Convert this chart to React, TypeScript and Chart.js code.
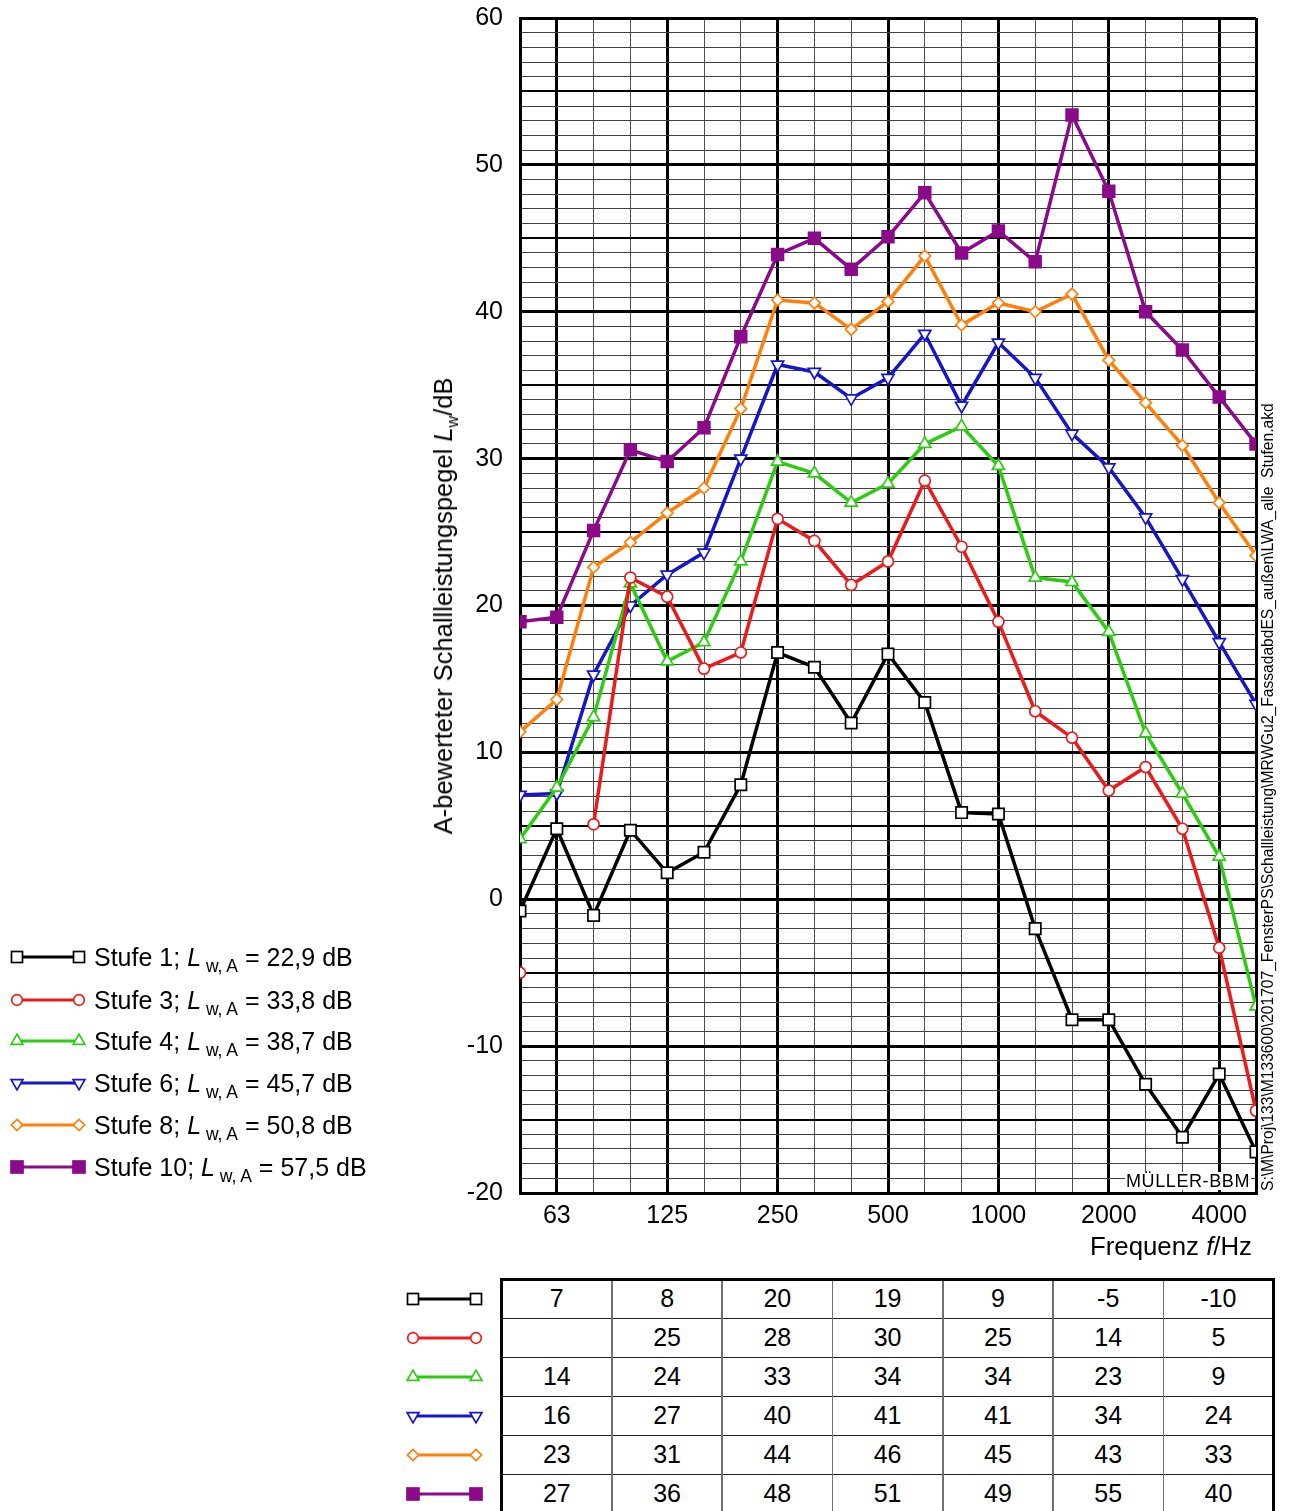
import React, { useEffect, useRef } from 'react';
import { Chart, registerables } from 'chart.js';

Chart.register(...registerables);

const FONT = "'Liberation Sans', Arial, sans-serif";

// third-octave band centre frequencies (Hz)
const frequencies = ['50', '63', '80', '100', '125', '160', '200', '250', '315', '400', '500', '630', '800', '1000', '1250', '1600', '2000', '2500', '3150', '4000', '5000'];
// labelled octave ticks
const octaveTicks = ['63', '125', '250', '500', '1000', '2000', '4000'];
// y tick labels
const yTickLabels = [-20, -10, 0, 10, 20, 30, 40, 50, 60];

// third-octave levels in dB
const stufe1 = [-0.8, 4.8, -1.1, 4.7, 1.8, 3.2, 7.8, 16.8, 15.8, 12.0, 16.7, 13.4, 5.9, 5.8, -2.0, -8.2, -8.2, -12.6, -16.2, -11.9, -17.2];
const stufe3 = [-5.0, null, 5.1, 21.9, 20.6, 15.7, 16.8, 25.9, 24.4, 21.4, 23.0, 28.5, 24.0, 18.9, 12.8, 11.0, 7.4, 9.0, 4.8, -3.3, -14.4];
const stufe4 = [4.1, 7.6, 12.4, 21.5, 16.2, 17.5, 23.0, 29.8, 29.0, 27.0, 28.3, 31.0, 32.2, 29.5, 21.9, 21.6, 18.2, 11.3, 7.2, 2.9, -7.3];
const stufe6 = [7.1, 7.2, 15.3, 20.0, 22.1, 23.6, 30.0, 36.4, 35.9, 34.1, 35.5, 38.5, 33.6, 37.9, 35.5, 31.7, 29.4, 26.0, 21.8, 17.5, 13.3];
const stufe8 = [11.4, 13.6, 22.6, 24.3, 26.3, 28.0, 33.4, 40.8, 40.6, 38.8, 40.7, 43.8, 39.1, 40.6, 40.0, 41.2, 36.7, 33.8, 30.9, 27.0, 23.4];
const stufe10 = [18.9, 19.2, 25.1, 30.6, 29.8, 32.1, 38.3, 43.9, 45.0, 42.9, 45.1, 48.1, 44.0, 45.5, 43.4, 53.4, 48.2, 40.0, 37.4, 34.2, 31.0];

// octave-band table values
const oct1 = [7, 8, 20, 19, 9, -5, -10];
const oct3 = [null, 25, 28, 30, 25, 14, 5];
const oct4 = [14, 24, 33, 34, 34, 23, 9];
const oct6 = [16, 27, 40, 41, 41, 34, 24];
const oct8 = [23, 31, 44, 46, 45, 43, 33];
const oct10 = [27, 36, 48, 51, 49, 55, 40];

const seriesNames = ['Stufe 1', 'Stufe 3', 'Stufe 4', 'Stufe 6', 'Stufe 8', 'Stufe 10'];
const lwaValues = ['22,9', '33,8', '38,7', '45,7', '50,8', '57,5'];

const seriesData = [stufe1, stufe3, stufe4, stufe6, stufe8, stufe10];
const tableData = [oct1, oct3, oct4, oct6, oct8, oct10];
const colors = ['#000000', '#ec1a1a', '#2dcc12', '#1515cc', '#ff7f0a', '#8a0a8a'];
const kinds = ['square', 'circle', 'triUp', 'triDown', 'diamond', 'squareFilled'];

const pathText = 'S:\\M\\Proj\\133\\M133600\\201707_FensterPS\\Schallleistung\\MRWGu2_FassadabdES_außen\\LWA_alle  Stufen.akd';

function pointOpts(kind: string, color: string) {
  switch (kind) {
    case 'square':
      return { pointStyle: 'rect', pointRadius: 8, pointBackgroundColor: '#fff' };
    case 'squareFilled':
      return { pointStyle: 'rect', pointRadius: 8.3, pointBackgroundColor: color };
    case 'circle':
      return { pointStyle: 'circle', pointRadius: 5.5, pointBackgroundColor: '#fff' };
    case 'triUp':
      return { pointStyle: 'triangle', pointRadius: 7, pointBackgroundColor: '#fff' };
    case 'triDown':
      return { pointStyle: 'triangle', pointRotation: 180, pointRadius: 7, pointBackgroundColor: '#fff' };
    default:
      return { pointStyle: 'rectRot', pointRadius: 5.8, pointBackgroundColor: '#fff' };
  }
}

function Shape({ kind, color, cx, cy }: { kind: string; color: string; cx: number; cy: number }) {
  const sw = 1.7;
  if (kind === 'square' || kind === 'squareFilled') {
    const s = kind === 'square' ? 5.5 : 6;
    return <rect x={cx - s} y={cy - s} width={2 * s} height={2 * s} fill={kind === 'square' ? '#fff' : color} stroke={color} strokeWidth={sw} />;
  }
  if (kind === 'circle') return <circle cx={cx} cy={cy} r={5.3} fill="#fff" stroke={color} strokeWidth={sw} />;
  if (kind === 'triUp' || kind === 'triDown') {
    const r = 6.8;
    const d = kind === 'triUp' ? 1 : -1;
    const pts = `${cx},${cy - d * r} ${cx + 0.866 * r},${cy + d * r / 2} ${cx - 0.866 * r},${cy + d * r / 2}`;
    return <polygon points={pts} fill="#fff" stroke={color} strokeWidth={sw} />;
  }
  const r = 5.6;
  return <polygon points={`${cx},${cy - r} ${cx + r},${cy} ${cx},${cy + r} ${cx - r},${cy}`} fill="#fff" stroke={color} strokeWidth={sw} />;
}

function Sample({ kind, color, x1, x2, cy }: { kind: string; color: string; x1: number; x2: number; cy: number }) {
  const left = x1 - 10;
  const w = x2 - x1 + 20;
  return (
    <svg style={{ position: 'absolute', left, top: cy - 10 }} width={w} height={20}>
      <line x1={10} y1={10} x2={w - 10} y2={10} stroke={color} strokeWidth={3.2} />
      <Shape kind={kind} color={color} cx={10} cy={10} />
      <Shape kind={kind} color={color} cx={w - 10} cy={10} />
    </svg>
  );
}

export default function App() {
  const canvasRef = useRef<HTMLCanvasElement>(null);

  useEffect(() => {
    const canvas = canvasRef.current;
    if (!canvas) return;
    const isMajorX = (i: number) => i === 0 || i === frequencies.length - 1 || octaveTicks.includes(frequencies[i]);
    const datasets = seriesData.map((d, i) => ({
      label: seriesNames[i],
      data: d,
      borderColor: colors[i],
      pointBorderColor: colors[i],
      borderWidth: 3.5,
      pointBorderWidth: 1.7,
      spanGaps: false,
      tension: 0,
      clip: 0,
      ...pointOpts(kinds[i], colors[i]),
    }));
    const chart = new Chart(canvas, {
      type: 'line',
      data: { labels: frequencies, datasets: datasets as any },
      options: {
        animation: false,
        responsive: false,
        devicePixelRatio: 1,
        events: [],
        layout: { padding: { left: 0, top: 18, right: 35, bottom: 0 } },
        plugins: { legend: { display: false }, tooltip: { enabled: false }, title: { display: false } },
        scales: {
          x: {
            type: 'category',
            offset: false,
            grid: {
              drawTicks: true,
              tickLength: 8,
              tickColor: 'rgba(0,0,0,0)',
              lineWidth: (c: any) => (isMajorX(c.index) ? 3 : 1),
              color: (c: any) => (isMajorX(c.index) ? '#000' : '#505050'),
            },
            border: { display: true, color: '#000', width: 3 },
            ticks: {
              autoSkip: false,
              maxRotation: 0,
              minRotation: 0,
              padding: 0,
              color: '#000',
              font: { size: 25, family: FONT },
              callback: (_v: any, i: number) => (octaveTicks.includes(frequencies[i]) ? frequencies[i] : ''),
            },
            afterFit: (s: any) => {
              s.height = 77;
            },
          },
          y: {
            type: 'linear',
            min: -20,
            max: 60,
            grid: {
              drawTicks: true,
              tickLength: 17,
              tickColor: 'rgba(0,0,0,0)',
              lineWidth: (c: any) => {
                const v = Math.round(c.tick.value);
                return v % 10 === 0 ? 3 : v % 5 === 0 ? 2 : 1;
              },
              color: (c: any) => {
                const v = Math.round(c.tick.value);
                return v % 5 === 0 ? '#000' : '#404040';
              },
            },
            border: { display: true, color: '#000', width: 3 },
            ticks: {
              stepSize: 1,
              autoSkip: false,
              maxTicksLimit: 1000,
              padding: 0,
              color: '#000',
              font: { size: 25, family: FONT },
              callback: (v: any) => (yTickLabels.includes(Math.round(Number(v))) ? String(Math.round(Number(v))) : ''),
            },
            afterFit: (s: any) => {
              s.width = 520;
            },
          },
        },
      } as any,
    });
    return () => chart.destroy();
  }, []);

  const legendY = [957, 999.5, 1041, 1083, 1124.5, 1166.5];
  const tableLeft = 501.7;
  const colW = 110.27;
  const tableTop = 1279.3;
  const rowH = 39;

  return (
    <div style={{ position: 'absolute', left: 0, top: 0, width: 1291, height: 1511, overflow: 'hidden', background: '#fff', fontFamily: FONT, color: '#000' }}>
      <canvas ref={canvasRef} width={1291} height={1270} style={{ position: 'absolute', left: 0, top: 0, width: 1291, height: 1270 }} />

      {/* y axis title */}
      <div style={{ position: 'absolute', left: 445, top: 606, transform: 'translate(-50%, -50%) rotate(-90deg)', whiteSpace: 'nowrap', fontSize: 25.5, lineHeight: '30px' }}>
        A-bewerteter Schallleistungspegel <i>L</i>
        <span style={{ fontSize: 16, position: 'relative', top: 6 }}>w</span>/dB
      </div>

      {/* x axis title */}
      <div style={{ position: 'absolute', left: 1252, top: 1246, transform: 'translate(-100%, -50%)', whiteSpace: 'nowrap', fontSize: 25.8, lineHeight: '30px' }}>
        Frequenz <i>f</i>/Hz
      </div>

      {/* watermark */}
      <div style={{ position: 'absolute', left: 1251, top: 1181, transform: 'translate(-100%, -50%)', whiteSpace: 'nowrap', fontSize: 18, letterSpacing: 0.6, lineHeight: '18px', background: '#fff', padding: '0 1px' }}>
        MÜLLER-BBM
      </div>

      {/* file path */}
      <div style={{ position: 'absolute', left: 1259, top: 1191, transform: 'rotate(-90deg)', transformOrigin: '0 0', whiteSpace: 'pre', fontSize: 15.6, lineHeight: '18px' }}>
        {pathText}
      </div>

      {/* legend */}
      {seriesNames.map((name, i) => (
        <React.Fragment key={name}>
          <Sample kind={kinds[i]} color={colors[i]} x1={17} x2={79} cy={legendY[i]} />
          <div style={{ position: 'absolute', left: 94, top: legendY[i] - 18, whiteSpace: 'pre', fontSize: 25, lineHeight: '36px' }}>
            {name}; <i>L</i>
            <span style={{ fontSize: 17.5, position: 'relative', top: 6 }}> w, A</span> = {lwaValues[i]} dB
          </div>
        </React.Fragment>
      ))}

      {/* table row samples */}
      {tableData.map((_, r) => (
        <Sample key={'s' + r} kind={kinds[r]} color={colors[r]} x1={413} x2={476} cy={tableTop + r * rowH + rowH / 2} />
      ))}

      {/* table cells */}
      {tableData.map((row, r) =>
        row.map((v, c) => (
          <div key={r + '-' + c} style={{ position: 'absolute', left: tableLeft + c * colW, top: tableTop + r * rowH, width: colW, height: rowH, lineHeight: rowH + 'px', textAlign: 'center', fontSize: 25 }}>
            {v === null ? '' : String(v)}
          </div>
        ))
      )}
      {/* table horizontal lines */}
      {tableData.slice(1).map((_, r) => (
        <div key={'h' + r} style={{ position: 'absolute', left: tableLeft, top: tableTop + (r + 1) * rowH - 0.5, width: colW * 7, height: 1, background: '#222' }} />
      ))}
      {/* table vertical lines */}
      {oct1.slice(1).map((_, c) => (
        <div key={'v' + c} style={{ position: 'absolute', left: tableLeft + (c + 1) * colW - 0.75, top: tableTop, width: 1.5, height: 260, background: '#707070' }} />
      ))}
      {/* table outer border */}
      <div style={{ position: 'absolute', left: tableLeft - 1.5, top: tableTop - 1.5, width: colW * 7 + 3, height: 3, background: '#000' }} />
      <div style={{ position: 'absolute', left: tableLeft - 1.5, top: tableTop - 1.5, width: 3, height: 260, background: '#000' }} />
      <div style={{ position: 'absolute', left: tableLeft + colW * 7 - 1.5, top: tableTop - 1.5, width: 3, height: 260, background: '#000' }} />
    </div>
  );
}
